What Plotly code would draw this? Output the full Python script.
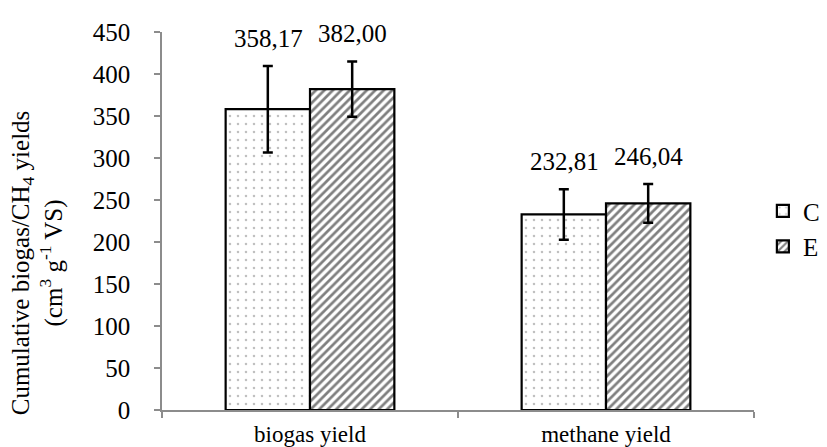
import plotly.graph_objects as go

categories = ["biogas yield", "methane yield"]
series_names = ["C", "E"]
values_C = [358.17, 232.81]
values_E = [382.00, 246.04]
err_C = [51.5, 30.0]
err_E = [33.0, 23.0]
y_ticks = [0, 50, 100, 150, 200, 250, 300, 350, 400, 450]

FONT = "Liberation Serif"
FS = 25

fig = go.Figure()
fig.add_trace(go.Bar(
    name=series_names[0], x=categories, y=values_C,
    error_y=dict(type="data", array=err_C, color="black", thickness=2.5, width=5),
    marker=dict(color="white", line=dict(color="black", width=2.2),
                pattern=dict(shape=".", fgcolor="#808080", bgcolor="white", size=8, solidity=0.08)),
))
fig.add_trace(go.Bar(
    name=series_names[1], x=categories, y=values_E,
    error_y=dict(type="data", array=err_E, color="black", thickness=2.5, width=5),
    marker=dict(color="white", line=dict(color="black", width=2.2),
                pattern=dict(shape="/", fgcolor="black", bgcolor="white", size=6, solidity=0.45)),
))

def fmt(v):
    return f"{v:.2f}".replace(".", ",")

ann = []
for vals, errs, xs in [(values_C, err_C, -42), (values_E, err_E, 42)]:
    for c, v, e in zip(categories, vals, errs):
        ann.append(dict(x=c, y=v + e, xref="x", yref="y", text=fmt(v), showarrow=False,
                        xshift=xs, yshift=12, yanchor="bottom",
                        font=dict(family=FONT, size=FS, color="black")))
ann.append(dict(x=-0.21, y=0.39, xref="paper", yref="paper", textangle=-90,
                text="Cumulative biogas/CH<sub>4</sub> yields<br>(cm<sup>3</sup> g<sup>-1</sup> VS)",
                showarrow=False, xanchor="center", yanchor="middle",
                font=dict(family=FONT, size=FS, color="black")))

fig.update_layout(
    width=827, height=447,
    margin=dict(l=154, r=81, t=24, b=45, autoexpand=False),
    paper_bgcolor="white", plot_bgcolor="white",
    barmode="group", bargap=0.43, bargroupgap=0,
    font=dict(family=FONT, size=FS, color="black"),
    annotations=ann,
    legend=dict(x=1.015, y=0.48, xanchor="left", yanchor="middle",
                font=dict(family=FONT, size=FS, color="black"),
                bgcolor="rgba(0,0,0,0)", itemwidth=30, tracegroupgap=0),
    xaxis=dict(showline=True, linecolor="#8c8c8c", linewidth=1.5, ticks="outside",
               tickson="boundaries", ticklen=6, tickcolor="#8c8c8c", tickwidth=1.5,
               showgrid=False, automargin=False, ticklabelstandoff=3,
               tickfont=dict(family=FONT, size=23, color="black")),
    yaxis=dict(range=[0, 450], tickvals=y_ticks, showline=True, linecolor="#8c8c8c",
               linewidth=1.5, ticks="outside", ticklen=6, tickcolor="#8c8c8c", tickwidth=1.5,
               showgrid=False, zeroline=False, automargin=False, ticklabelstandoff=19,
               tickfont=dict(family=FONT, size=FS, color="black")),
)
fig.write_html("out.html")
